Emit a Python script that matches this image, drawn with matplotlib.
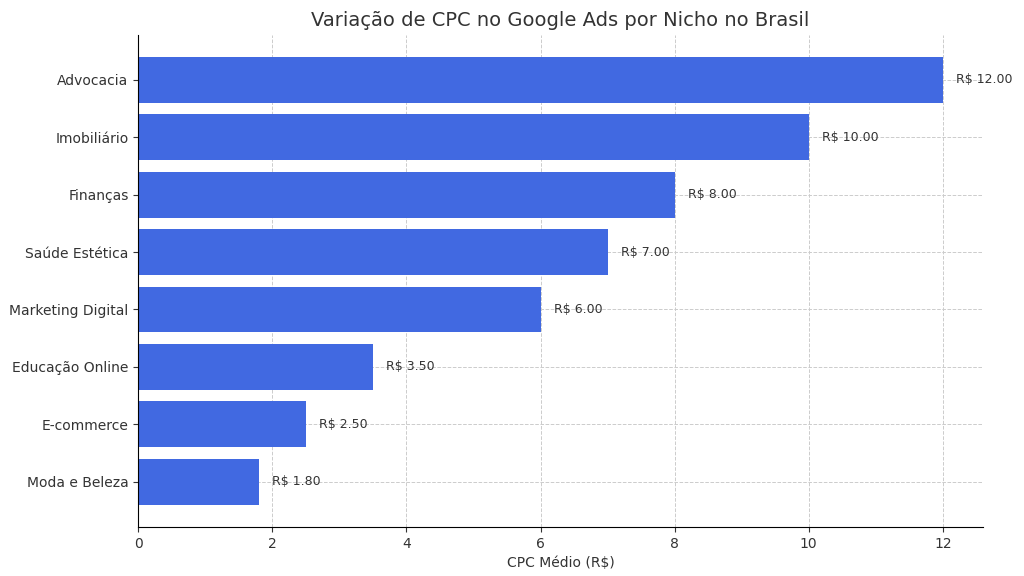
import matplotlib.pyplot as plt

nichos = ["Moda e Beleza", "E-commerce", "Educação Online", "Marketing Digital",
          "Saúde Estética", "Finanças", "Imobiliário", "Advocacia"]
cpc = [1.80, 2.50, 3.50, 6.00, 7.00, 8.00, 10.00, 12.00]

fig, ax = plt.subplots(figsize=(10.24, 5.76), dpi=100)
bars = ax.barh(nichos, cpc, color="#4169e1", zorder=2)
for b, v in zip(bars, cpc):
    ax.text(v + 0.2, b.get_y() + b.get_height() / 2, f"R$ {v:.2f}",
            va="center", fontsize=9, color="#333333")

ax.set_title("Variação de CPC no Google Ads por Nicho no Brasil", fontsize=14, color="#333333")
ax.set_xlabel("CPC Médio (R$)", fontsize=10, color="#333333")
ax.set_xlim(0, 12.6)
ax.set_ylim(-0.79, 7.79)
ax.grid(True, linestyle="--", color="#cccccc", linewidth=0.7, zorder=0)
ax.spines["top"].set_visible(False)
ax.spines["right"].set_visible(False)
ax.tick_params(labelsize=10, colors="#333333")
plt.subplots_adjust(left=0.135, right=0.96, top=0.94, bottom=0.085)
plt.savefig("out.png")
